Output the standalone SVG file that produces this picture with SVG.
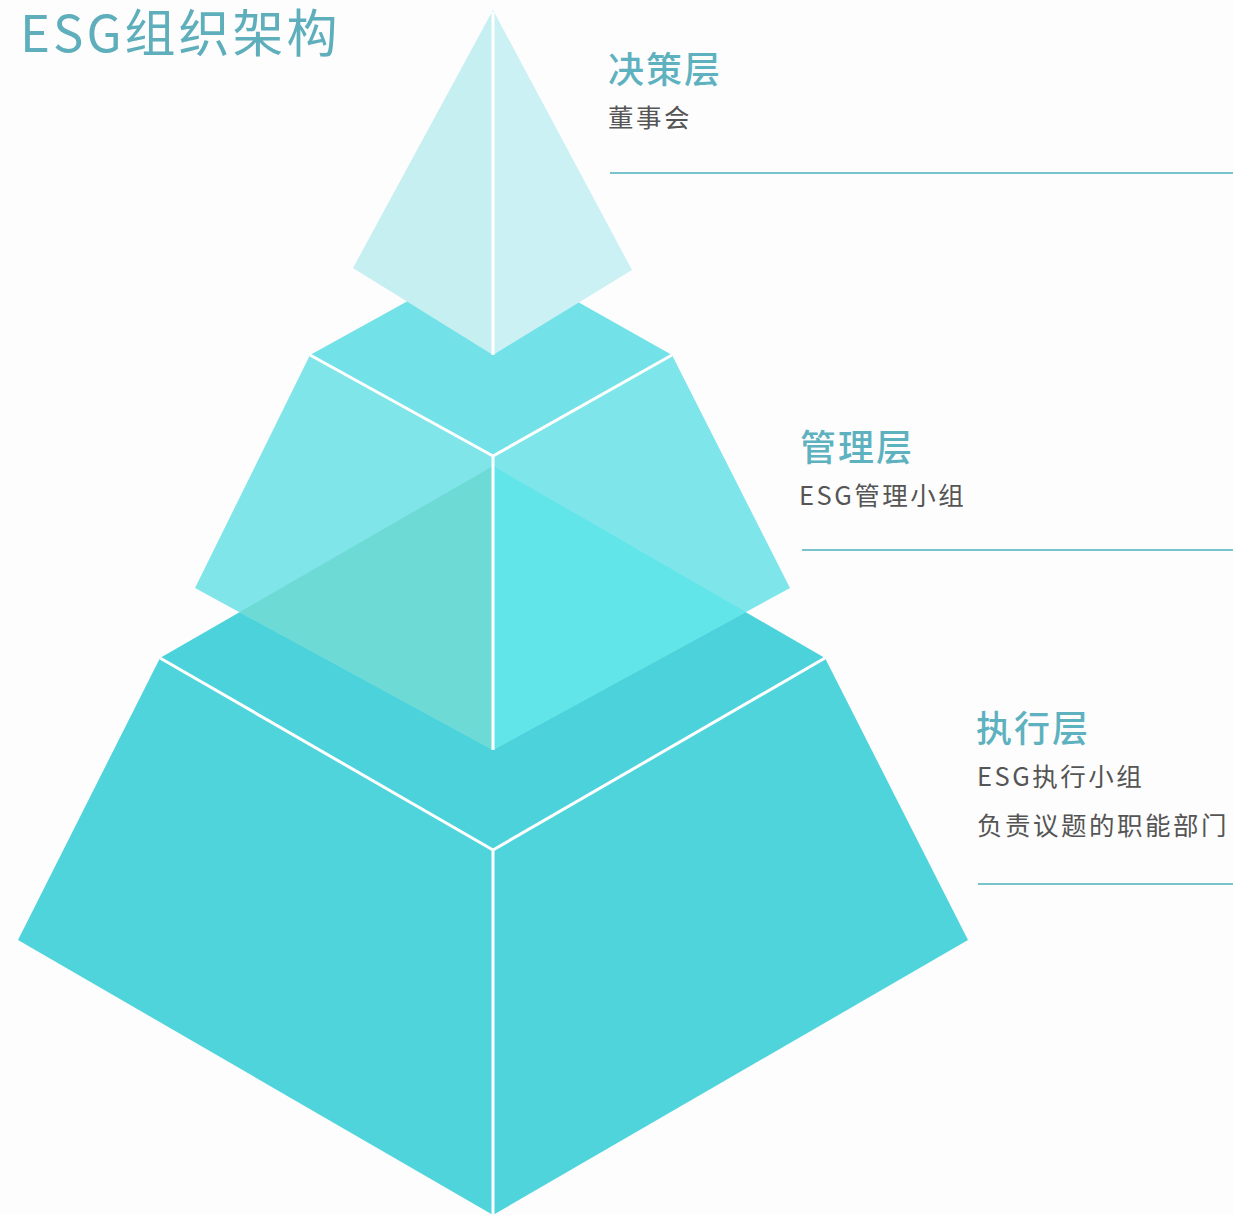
<svg xmlns="http://www.w3.org/2000/svg" width="1233" height="1215" viewBox="0 0 1233 1215">
<style>
.title{font-family:"Noto Sans CJK SC","Noto Sans",sans-serif;font-size:51px;fill:#5eaebb;letter-spacing:3px}
.h{font-family:"Noto Sans CJK SC",sans-serif;font-size:36px;font-weight:500;fill:#5eb2bf;letter-spacing:2px}
.s{font-family:"Noto Sans CJK SC",sans-serif;font-size:25.5px;fill:#555;letter-spacing:2.5px}
.rule{stroke:#79c3cc;stroke-width:2}
.edge{stroke:#fff;stroke-width:3;fill:none}
</style>
<rect width="1233" height="1215" fill="#fdfdfd"/>
<text class="title" x="20" y="52">ESG组织架构</text>
<g id="layer-execution">
<polygon points="160,658 493,466 825,658 493,850" fill="#4cd2da"/>
<polygon points="160,658 493,850 493,1215 18,940" fill="#4fd4dc"/>
<polygon points="825,658 493,850 493,1215 968,940" fill="#4fd4dc"/>
</g>
<g id="layer-management">
<polygon points="310,355 493,254 672,355 493,456" fill="#72e2e8"/>
<polygon points="310,355 493,456 493,750 195,588" fill="#80e5e9"/>
<polygon points="672,355 493,456 493,750 790,588" fill="#7ee6ea"/>
<polygon points="239.5,612 493,466 493,750" fill="#6edad5"/>
<polygon points="746,612 493,466 493,750" fill="#62e5e9"/>
</g>
<g id="layer-decision">
<polygon points="493,10 353,268 493,355" fill="#c6eff2"/>
<polygon points="493,10 632,270 493,355" fill="#cbf1f4"/>
</g>
<g id="connectors">
<line class="edge" x1="493" y1="12" x2="493" y2="355"/>
<line class="edge" x1="310" y1="355" x2="493" y2="456"/>
<line class="edge" x1="672" y1="355" x2="493" y2="456"/>
<line class="edge" x1="493" y1="456" x2="493" y2="750"/>
<line class="edge" x1="160" y1="658" x2="493" y2="850"/>
<line class="edge" x1="825" y1="658" x2="493" y2="850"/>
<line class="edge" x1="493" y1="850" x2="493" y2="1215"/>
</g>
<g id="label-decision">
<text class="h" x="608" y="83">决策层</text>
<text class="s" x="608" y="127">董事会</text>
<line class="rule" x1="610" y1="173" x2="1233" y2="173"/>
</g>
<g id="label-management">
<text class="h" x="800" y="461">管理层</text>
<text class="s" x="799" y="505">ESG管理小组</text>
<line class="rule" x1="802" y1="550" x2="1233" y2="550"/>
</g>
<g id="label-execution">
<text class="h" x="976" y="742">执行层</text>
<text class="s" x="977" y="786">ESG执行小组</text>
<text class="s" x="977" y="835">负责议题的职能部门</text>
<line class="rule" x1="978" y1="884" x2="1233" y2="884"/>
</g>
</svg>
